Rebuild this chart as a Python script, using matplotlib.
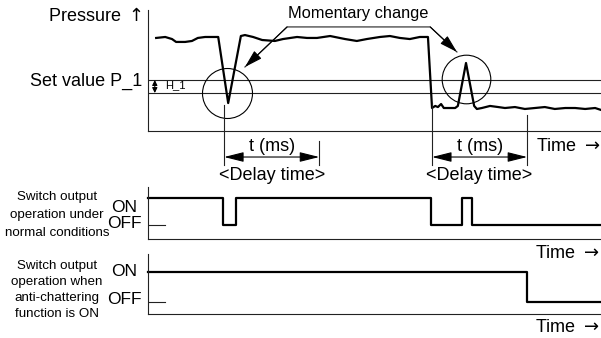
import matplotlib
matplotlib.use("Agg")
import matplotlib.pyplot as plt
from matplotlib import font_manager

# ---- data (time and pressure in arbitrary units) ----
time = [1.8, 3.8, 5.3, 6.2, 8.2, 9.7, 11.0, 12.6, 15.5, 17.7, 20.5, 21.4,
        23.2, 25.2, 28.0, 29.8, 32.9, 35.1, 37.3, 40.2, 43.5, 46.1, 48.3,
        51.2, 53.4, 55.6, 57.8, 60.0, 61.8, 62.7, 63.4, 64.0, 64.7, 65.3,
        66.7, 67.8, 68.4, 70.2, 72.0, 72.6, 73.7, 75.5, 77.3, 78.8, 81.0,
        83.2, 85.4, 87.6, 89.8, 92.1, 94.3, 96.5, 98.7, 100.0]
pressure = [76.9, 77.7, 76.0, 73.6, 73.6, 74.4, 76.9, 77.7, 77.7, 23.1, 78.5,
            79.3, 77.7, 75.2, 74.4, 76.0, 77.7, 76.9, 76.9, 78.5, 76.0, 74.4,
            76.0, 77.7, 78.5, 76.9, 76.0, 77.7, 77.7, 19.0, 20.7, 19.8, 22.3,
            19.0, 19.0, 19.0, 20.7, 56.2, 20.7, 18.2, 19.0, 20.7, 19.8, 19.0,
            19.8, 18.2, 19.0, 19.8, 18.2, 19.0, 19.0, 18.2, 19.0, 17.4]

set_value = 42.1        # P_1
set_value_low = 31.4    # P_1 - H_1
spike_time = 70.2
delay = 21.0
delay_starts = [16.8, 62.7]

# switch output, normal: step edges and state after each edge
normal_edges = [0, 16.6, 19.4, 62.5, 69.3, 71.5, 100]
normal_state = [1, 0, 1, 0, 1, 0, 0]
# switch output with anti-chattering: goes OFF after the delay
chatter_edges = [0, delay_starts[1] + delay, 100]
chatter_state = [1, 0, 0]

# ---- figure set-up ----
W, H = 601, 338
fig = plt.figure(figsize=(W / 100, H / 100), dpi=100)

names = {f.name for f in font_manager.fontManager.ttflist}
main_font = "Liberation Sans" if "Liberation Sans" in names else "DejaVu Sans"
plt.rcParams["font.family"] = [main_font, "DejaVu Sans"]
plt.rcParams["mathtext.fontset"] = "dejavusans"

THIN = 0.8
THICK = 1.6
GREY = "#222222"
ARROW_R = r"Time $\rightarrow$"
LABEL_SIZE = 9.6


def box(left, top, right, bottom):
    """pixel box -> figure fraction rect"""
    return [left / W, 1 - bottom / H, (right - left) / W, (bottom - top) / H]


def fxy(px, py):
    return px / W, 1 - py / H


def frame(ax):
    for s in ("top", "right"):
        ax.spines[s].set_visible(False)
    for s in ("left", "bottom"):
        ax.spines[s].set_linewidth(THIN)
        ax.spines[s].set_color(GREY)
    ax.set_xticks([])
    ax.set_yticks([])
    ax.patch.set_alpha(0)


# ---- pressure panel ----
ax = fig.add_axes(box(148, 10, 601, 131))
frame(ax)
ax.set_xlim(0, 100)
ax.set_ylim(0, 100)

ax.axhline(set_value, color=GREY, lw=THIN)
ax.axhline(set_value_low, color=GREY, lw=THIN)
ax.plot(time, pressure, color="black", lw=THICK)

# circles around the momentary changes
ax.plot([17.5], [31.4], marker="o", ms=36, mfc="none", mec="black", mew=THIN)
ax.plot([spike_time], [43.0], marker="o", ms=35, mfc="none", mec="black", mew=THIN)

# hysteresis arrow
ax.annotate("", xy=(1.5, set_value), xytext=(1.5, set_value_low),
            arrowprops=dict(arrowstyle="<|-|>,head_length=0.3,head_width=0.15",
                            lw=THIN, color="black", shrinkA=0, shrinkB=0))
ax.text(3.7, (set_value + set_value_low) / 2 + 1.5, "H_1", fontsize=8,
        va="center", ha="left")

# "Momentary change" bracket
bracket_t = [21.4, 30.7, 62.3, 68.2]
bracket_p = [52.9, 86.0, 86.0, 65.3]
ax.plot(bracket_t, bracket_p, color=GREY, lw=THIN, clip_on=False)
for tip, tail in (((bracket_t[0], bracket_p[0]), (bracket_t[1], bracket_p[1])),
                  ((bracket_t[3], bracket_p[3]), (bracket_t[2], bracket_p[2]))):
    ax.annotate("", xy=tip, xytext=tail,
                arrowprops=dict(arrowstyle="-|>,head_length=1.1,head_width=0.32",
                                lw=THIN, color="black", shrinkA=0, shrinkB=0))
ax.text(46.5, 97.5, "Momentary change", fontsize=11.8, ha="center", va="center",
        clip_on=False)

# delay time markers
tops_start = [21.5, 23.1]
tops_end = [-8.3, 13.2]
for start, top_s, top_e in zip(delay_starts, tops_start, tops_end):
    end = start + delay
    ax.plot([start, start], [top_s, -28.1], color=GREY, lw=THIN, clip_on=False)
    ax.plot([end, end], [top_e, -28.1], color=GREY, lw=THIN, clip_on=False)
    ax.annotate("", xy=(start, -21.5), xytext=(end, -21.5),
                arrowprops=dict(arrowstyle="<|-|>,head_length=1.2,head_width=0.3",
                                lw=THIN, color="black", shrinkA=0, shrinkB=0),
                annotation_clip=False)
    ax.text((start + end) / 2, -13.0, "t (ms)", fontsize=13, ha="center",
            va="center", clip_on=False)
    ax.text((start + end) / 2, -36.6, "<Delay time>", fontsize=13, ha="center",
            va="center", clip_on=False)
ax.text(100, -12.4, ARROW_R, fontsize=13, ha="right", va="center",
        clip_on=False)

fig.text(*fxy(142, 16), r"Pressure $\uparrow$", fontsize=13, ha="right",
         va="center")
fig.text(*fxy(142, 81), "Set value P_1", fontsize=13, ha="right", va="center")

# ---- switch output panels ----
panels = [
    (box(148, 187, 601, 239), (-0.52, 1.41), normal_edges, normal_state,
     "Switch output\noperation under\nnormal conditions", (57, 215), 1.62,
     (207, 223), 254),
    (box(148, 254, 601, 314), (-0.4, 1.6), chatter_edges, chatter_state,
     "Switch output\noperation when\nanti-chattering\nfunction is ON", (57, 290),
     1.45, (272, 300), 327),
]
for rect, ylim, edges, state, label, label_xy, spacing, onoff_y, time_y in panels:
    sax = fig.add_axes(rect)
    frame(sax)
    sax.set_xlim(0, 100)
    sax.set_ylim(*ylim)
    sax.plot(edges, state, drawstyle="steps-post", color="black", lw=THICK,
             clip_on=False)
    sax.plot([0, 3.75], [0, 0], color=GREY, lw=THIN)
    fig.text(*fxy(*label_xy), label, fontsize=LABEL_SIZE, ha="center",
             va="center", linespacing=spacing)
    fig.text(*fxy(124, onoff_y[0]), "ON", fontsize=12.5, ha="center",
             va="center")
    fig.text(*fxy(124, onoff_y[1]), "OFF", fontsize=12.5, ha="center",
             va="center")
    fig.text(*fxy(600, time_y), ARROW_R, fontsize=13, ha="right",
             va="center")

fig.savefig("out.png", dpi=100)
